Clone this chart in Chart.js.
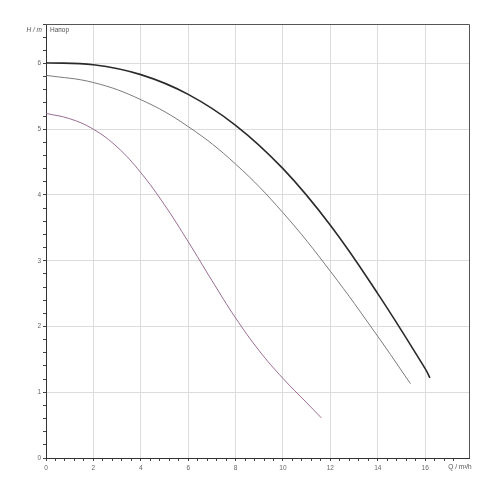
<!DOCTYPE html>
<html>
<head>
<meta charset="utf-8">
<script src="https://cdn.jsdelivr.net/npm/chart.js@4.4.0/dist/chart.umd.min.js"></script>
<style>
  html, body { margin: 0; padding: 0; background: #fff; }
  #wrap { width: 500px; height: 500px; }
</style>
</head>
<body>
<div id="wrap"><canvas id="chart" width="500" height="500"></canvas></div>
<script>
// pump curves, Q in m3/h, H in m
const curveTopQ = [0, 2, 4, 6, 8, 10, 12, 14, 16, 16.2];
const curveTopH = [6.01, 5.98, 5.83, 5.53, 5.06, 4.40, 3.54, 2.50, 1.36, 1.22];

const curveMidQ = [0, 2, 4, 6, 8, 10, 12, 14, 15.38];
const curveMidH = [5.82, 5.71, 5.45, 5.04, 4.47, 3.73, 2.84, 1.85, 1.13];

const curveLowQ = [0, 1, 2, 3, 4, 5, 6, 7, 8, 9, 10, 11, 11.62];
const curveLowH = [5.24, 5.16, 5.00, 4.73, 4.34, 3.85, 3.29, 2.70, 2.13, 1.63, 1.21, 0.84, 0.61];

const xMax = 17.85;
const yMax = 6.6;
const xMajor = 2;   // labelled every 2
const yMajor = 1;

function toPoints(qs, hs) {
    return qs.map((q, i) => ({ x: q, y: hs[i] }));
}

function isMajor(v, step) {
    return Math.abs(v / step - Math.round(v / step)) < 1e-6;
}

const fontSmall = { family: 'Liberation Sans', size: 6.5 };

const ctx = document.getElementById('chart');

new Chart(ctx, {
    type: 'scatter',
    data: {
        datasets: [
            {
                data: toPoints(curveTopQ, curveTopH),
                borderColor: '#2a2a2a',
                borderWidth: 1.6,
                showLine: true,
                tension: 0.4,
                pointRadius: 0
            },
            {
                data: toPoints(curveMidQ, curveMidH),
                borderColor: '#6c6c70',
                borderWidth: 0.9,
                showLine: true,
                tension: 0.4,
                pointRadius: 0
            },
            {
                data: toPoints(curveLowQ, curveLowH),
                borderColor: '#8e5c86',
                borderWidth: 0.9,
                showLine: true,
                tension: 0.4,
                pointRadius: 0
            }
        ]
    },
    options: {
        responsive: false,
        animation: false,
        layout: {
            padding: { top: 24, right: 31, left: 0, bottom: 0 }
        },
        plugins: {
            legend: { display: false },
            tooltip: { enabled: false }
        },
        scales: {
            x: {
                type: 'linear',
                min: 0,
                max: xMax,
                afterFit(scale) { scale.height = 42; },
                border: { color: '#333', width: 1 },
                grid: {
                    color: c => (isMajor(c.tick.value, xMajor) && c.tick.value > 0 && c.tick.value < xMax - 0.1) ? '#dcdcdc' : 'rgba(0,0,0,0)',
                    tickColor: c => c.tick.value < xMax - 0.1 ? '#444' : 'rgba(0,0,0,0)',
                    tickLength: 3,
                    lineWidth: 1
                },
                ticks: {
                    stepSize: 0.4,
                    autoSkip: false,
                    maxRotation: 0,
                    padding: 3,
                    color: '#666',
                    font: fontSmall,
                    callback: v => (isMajor(v, xMajor) && v < xMax - 0.5) ? String(Math.round(v)) : ''
                }
            },
            y: {
                type: 'linear',
                min: 0,
                max: yMax,
                afterFit(scale) { scale.width = 46; },
                border: { color: '#333', width: 1 },
                grid: {
                    color: c => (isMajor(c.tick.value, yMajor) && c.tick.value > 0) ? '#dcdcdc' : 'rgba(0,0,0,0)',
                    tickColor: '#444',
                    tickLength: 3,
                    lineWidth: 1
                },
                ticks: {
                    stepSize: 0.2,
                    autoSkip: false,
                    padding: 2,
                    color: '#666',
                    font: fontSmall,
                    callback: v => isMajor(v, yMajor) ? String(Math.round(v)) : ''
                }
            }
        }
    },
    plugins: [{
        id: 'frameAndTitles',
        afterDraw(chart) {
            const c = chart.ctx;
            const a = chart.chartArea;
            c.save();
            // top and right frame
            c.strokeStyle = '#555';
            c.lineWidth = 1;
            c.beginPath();
            c.moveTo(a.left, a.top + 0.5);
            c.lineTo(a.right + 0.5, a.top + 0.5);
            c.lineTo(a.right + 0.5, a.bottom);
            c.stroke();

            c.fillStyle = '#555';
            c.textBaseline = 'middle';
            c.font = 'italic 6.5px "Liberation Sans"';
            c.textAlign = 'right';
            c.fillText('H / m', 42, a.top + 6);
            c.font = '6.5px "Liberation Sans"';
            c.textAlign = 'left';
            c.fillText('Напор', a.left + 4, a.top + 6);
            c.textAlign = 'center';
            c.fillText('Q / m³/h', 460, 467);
            c.restore();
        }
    }]
});
</script>
</body>
</html>
